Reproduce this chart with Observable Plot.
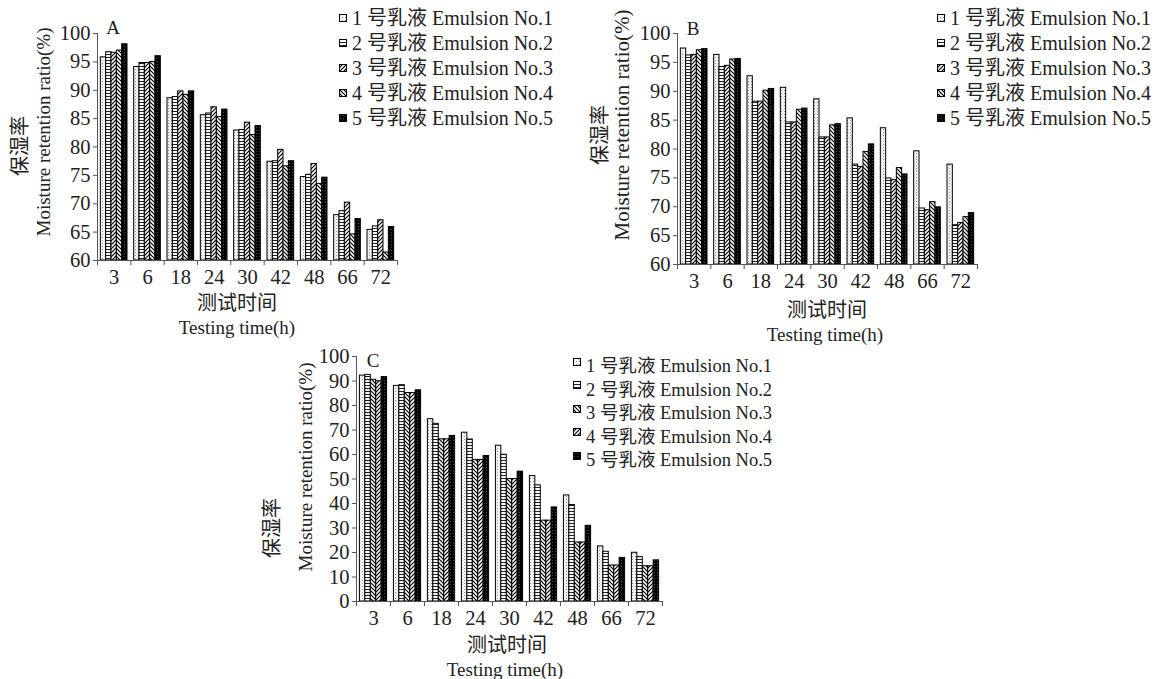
<!DOCTYPE html>
<html>
<head>
<meta charset="utf-8">
<script src="https://cdn.jsdelivr.net/npm/d3@7"></script>
<script src="https://cdn.jsdelivr.net/npm/@observablehq/plot@0.6"></script>
<style>
  body { margin: 0; background: #fff; }
  #root { position: relative; width: 1164px; height: 679px; overflow: hidden; background: #fff;
          font-family: "Liberation Serif", "Noto Sans CJK SC", serif; color: #222; }
  .abs { position: absolute; white-space: nowrap; line-height: 1; }
  .c { transform: translate(-50%, -50%); }
  .rot { transform: translate(-50%, -50%) rotate(-90deg); }
  .legend .row { position: absolute; left: 0; white-space: nowrap; line-height: 1; }
  .legend svg { vertical-align: middle; }
</style>
</head>
<body>
<svg width="0" height="0" style="position:absolute">
  <defs>
    <pattern id="p1" width="3" height="3" patternUnits="userSpaceOnUse">
      <rect width="3" height="3" fill="#fff"/>
      <rect x="0" y="0" width="1" height="1" fill="#8a8a8a"/>
      <rect x="1.5" y="1.5" width="1" height="1" fill="#b0b0b0"/>
    </pattern>
    <pattern id="p2" width="4" height="3" patternUnits="userSpaceOnUse">
      <rect width="4" height="3" fill="#fff"/>
      <rect y="0" width="4" height="1" fill="#222"/>
    </pattern>
    <pattern id="p3" width="4" height="4" patternUnits="userSpaceOnUse">
      <rect width="4" height="4" fill="#fff"/>
      <path d="M-1,1 L1,-1 M0,4 L4,0 M3,5 L5,3" stroke="#000" stroke-width="1.2"/>
    </pattern>
    <pattern id="p4" width="4" height="4" patternUnits="userSpaceOnUse">
      <rect width="4" height="4" fill="#fff"/>
      <path d="M-1,3 L1,5 M0,0 L4,4 M3,-1 L5,1" stroke="#000" stroke-width="1.2"/>
    </pattern>
    <pattern id="p5" width="3" height="3" patternUnits="userSpaceOnUse">
      <rect width="3" height="3" fill="#000"/>
      <rect x="1" y="1" width="0.8" height="0.8" fill="#777"/>
    </pattern>
  </defs>
</svg>
<div id="root"></div>
<script>
// ---------- data ----------
const times = ["3", "6", "18", "24", "30", "42", "48", "66", "72"];
const legendLabels = [
  "1 号乳液 Emulsion No.1",
  "2 号乳液 Emulsion No.2",
  "3 号乳液 Emulsion No.3",
  "4 号乳液 Emulsion No.4",
  "5 号乳液 Emulsion No.5"
];

// Panel A
const a1 = [95.8, 94.1, 88.6, 85.6, 82.9, 77.4, 74.7, 68.0, 65.4];
const a2 = [96.7, 94.8, 88.8, 85.9, 83.0, 77.5, 75.1, 68.7, 66.0];
const a3 = [96.6, 94.8, 89.8, 87.0, 84.3, 79.5, 77.0, 70.2, 67.1];
const a4 = [97.0, 95.0, 89.2, 85.3, 82.1, 76.6, 73.5, 64.6, 61.4];
const a5 = [98.1, 96.0, 89.8, 86.6, 83.7, 77.5, 74.6, 67.3, 65.9];
// Panel B
const b1 = [97.4, 96.3, 92.6, 90.6, 88.6, 85.3, 83.6, 79.6, 77.3];
const b2 = [96.2, 94.2, 88.2, 84.6, 82.0, 77.3, 74.9, 69.7, 66.8];
const b3 = [96.3, 94.4, 88.2, 84.6, 82.0, 76.9, 74.6, 69.4, 67.2];
const b4 = [97.1, 95.5, 90.1, 86.8, 84.1, 79.5, 76.7, 70.8, 68.2];
const b5 = [97.3, 95.6, 90.4, 87.0, 84.3, 80.8, 75.6, 69.9, 68.9];
// Panel C
const c1 = [92.2, 88.0, 74.4, 68.9, 63.6, 51.2, 43.3, 22.5, 19.9];
const c2 = [92.5, 88.3, 72.5, 66.1, 59.9, 47.4, 39.4, 20.3, 18.1];
const c3 = [90.5, 85.1, 66.2, 57.8, 50.0, 33.0, 24.1, 14.7, 14.4];
const c4 = [89.9, 85.1, 66.2, 57.8, 50.0, 33.0, 24.1, 14.7, 14.4];
const c5 = [91.6, 86.2, 67.6, 59.4, 53.0, 38.4, 30.9, 17.8, 16.8];

const yTicksAB = [60, 65, 70, 75, 80, 85, 90, 95, 100];
const yTicksC = [0, 10, 20, 30, 40, 50, 60, 70, 80, 90, 100];

// ---------- drawing ----------
const root = document.getElementById("root");

function makePanel(cfg) {
  const n = cfg.series.length;
  const pad = 0.1;
  const bw = (1 - 2 * pad) / n;
  const y0 = cfg.yDomain[0];
  const barMarks = cfg.series.map((vals, s) =>
    Plot.rectY(vals, {
      x1: (d, i) => i + pad + s * bw,
      x2: (d, i) => i + pad + (s + 1) * bw,
      y1: y0,
      y2: d => d,
      fill: `url(#${cfg.patterns[s]})`,
      stroke: "#000",
      strokeWidth: 1
    })
  );
  const svg = Plot.plot({
    width: cfg.width,
    height: cfg.height,
    marginLeft: cfg.ml, marginRight: cfg.mr, marginTop: cfg.mt, marginBottom: cfg.mb,
    style: {fontFamily: "'Liberation Serif', serif", fontSize: "20.5px", color: "#222", background: "transparent", overflow: "visible"},
    x: {domain: [0, times.length]},
    y: {domain: cfg.yDomain},
    marks: [
      ...barMarks,
      Plot.ruleY([y0], {stroke: "#555"}),
      Plot.ruleX([0], {stroke: "#555"}),
      Plot.axisY({ticks: cfg.yTicks, tickSize: 4, tickPadding: 3, label: null, tickFormat: d => String(d), stroke: "#555"}),
      Plot.axisX({ticks: d3.range(times.length + 1), tickSize: 5, tickFormat: () => "", label: null, stroke: "#555"}),
      Plot.axisX({ticks: d3.range(times.length).map(i => i + 0.5), tickSize: 0, tickPadding: 9,
                  tickFormat: v => times[Math.floor(v)], label: null})
    ]
  });
  const holder = document.createElement("div");
  holder.style.position = "absolute";
  holder.style.left = cfg.left + "px";
  holder.style.top = cfg.top + "px";
  holder.appendChild(svg);
  root.appendChild(holder);
}

function addText(txt, x, y, size, cls) {
  const d = document.createElement("div");
  d.className = "abs " + (cls || "");
  d.style.left = x + "px";
  d.style.top = y + "px";
  d.style.fontSize = size + "px";
  d.textContent = txt;
  root.appendChild(d);
}

function addLegend(labels, patterns, x, y, step, size, sq, sqShift) {
  const box = document.createElement("div");
  box.className = "legend";
  box.style.position = "absolute";
  box.style.left = x + "px";
  box.style.top = y + "px";
  box.style.fontSize = size + "px";
  labels.forEach((lab, i) => {
    const row = document.createElement("div");
    row.className = "row";
    row.style.top = (i * step) + "px";
    const ns = "http://www.w3.org/2000/svg";
    const s = document.createElementNS(ns, "svg");
    s.setAttribute("width", sq + 1);
    s.setAttribute("height", sq + 1);
    s.style.position = "relative";
    s.style.top = sqShift + "px";
    s.style.marginRight = "5px";
    const r = document.createElementNS(ns, "rect");
    r.setAttribute("x", 0.5); r.setAttribute("y", 0.5);
    r.setAttribute("width", sq); r.setAttribute("height", sq);
    r.setAttribute("fill", `url(#${patterns[i]})`);
    r.setAttribute("stroke", "#000");
    s.appendChild(r);
    row.appendChild(s);
    row.appendChild(document.createTextNode(lab));
    box.appendChild(row);
  });
  root.appendChild(box);
}

// Panel A
makePanel({left: 0, top: 0, width: 420, height: 340, ml: 97, mr: 23, mt: 33, mb: 80,
  series: [a1, a2, a3, a4, a5], patterns: ["p1", "p2", "p3", "p4", "p5"],
  yDomain: [60, 100], yTicks: yTicksAB});
// Panel B
makePanel({left: 580, top: 0, width: 420, height: 345, ml: 97, mr: 23, mt: 33, mb: 81,
  series: [b1, b2, b3, b4, b5], patterns: ["p1", "p2", "p3", "p4", "p5"],
  yDomain: [60, 100], yTicks: yTicksAB});
// Panel C
makePanel({left: 260, top: 340, width: 420, height: 339, ml: 96, mr: 18, mt: 16, mb: 78,
  series: [c1, c2, c3, c4, c5], patterns: ["p1", "p2", "p4", "p3", "p5"],
  yDomain: [0, 100], yTicks: yTicksC});

// Panel letters
addText("A", 113, 27, 19, "c");
addText("B", 693, 28, 19, "c");
addText("C", 373, 360, 19, "c");

// Axis titles A
addText("测试时间", 237, 303, 20, "c");
addText("Testing time(h)", 237, 327, 19, "c");
addText("保湿率", 20, 146, 20, "rot");
addText("Moisture retention ratio(%)", 43, 132, 19, "rot");
// Axis titles B
addText("测试时间", 827, 310, 20, "c");
addText("Testing time(h)", 825, 334, 19, "c");
addText("保湿率", 600, 135, 20, "rot");
addText("Moisture retention ratio(%)", 622, 125, 21, "rot");
// Axis titles C
addText("测试时间", 507, 645, 20, "c");
addText("Testing time(h)", 505, 669, 19, "c");
addText("保湿率", 272, 528, 20, "rot");
addText("Moisture retention ratio(%)", 305, 467, 19, "rot");

// Legends
addLegend(legendLabels, ["p1", "p2", "p3", "p4", "p5"], 339, 8, 25, 20, 7, -2);
addLegend(legendLabels, ["p1", "p2", "p3", "p4", "p5"], 937, 8, 25, 20, 7, -2);
addLegend(legendLabels, ["p1", "p2", "p4", "p3", "p5"], 573, 357, 23.5, 18.5, 7, -6);
</script>
</body>
</html>
